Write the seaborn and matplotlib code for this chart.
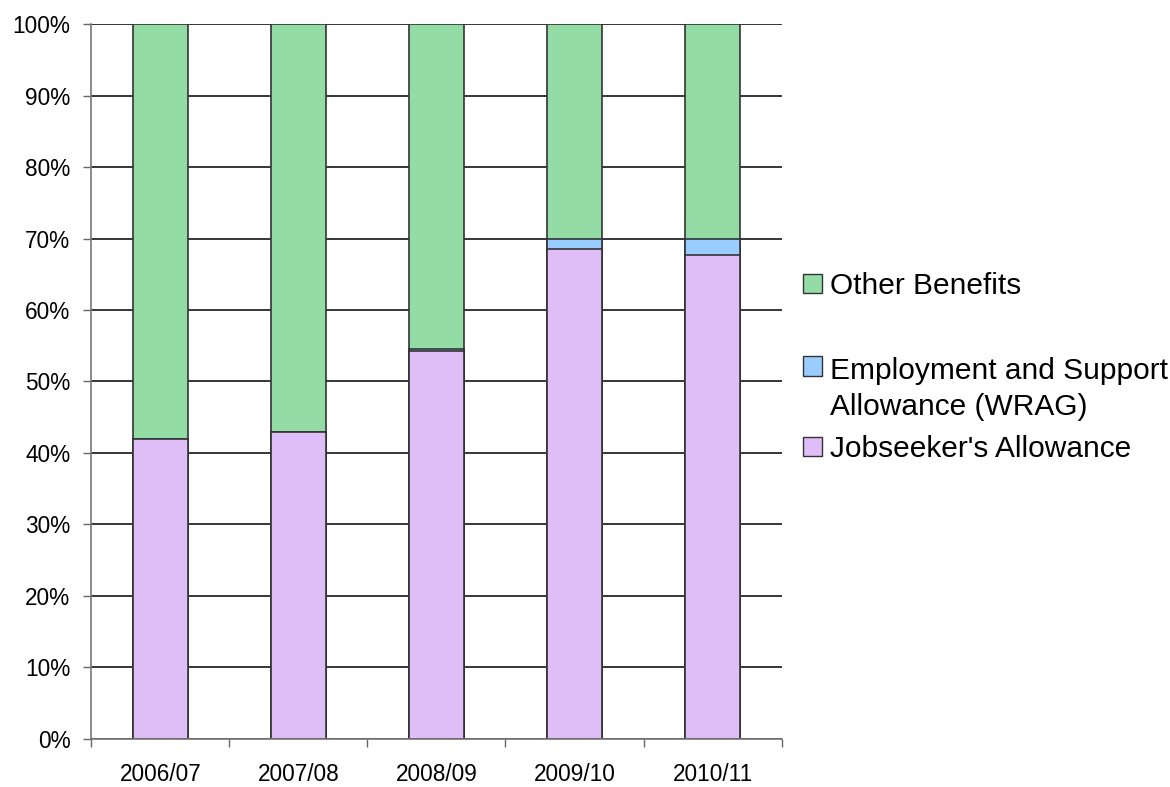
import matplotlib
matplotlib.use("Agg")
import matplotlib.pyplot as plt
import seaborn as sns
import pandas as pd
from matplotlib.patches import Patch, Rectangle
from matplotlib.legend_handler import HandlerPatch
from matplotlib.ticker import FuncFormatter, FixedLocator

years = ["2006/07", "2007/08", "2008/09", "2009/10", "2010/11"]
jsa = [42.0, 43.0, 54.2, 68.6, 67.7]
esa = [0.0, 0.0, 0.3, 1.3, 2.3]
other = [58.0, 57.0, 45.5, 30.1, 30.0]

df = pd.DataFrame({"year": years, "jsa": jsa, "esa": esa, "other": other})
df["jsa_esa"] = df["jsa"] + df["esa"]
df["total"] = df["jsa_esa"] + df["other"]

c_other = "#93dca6"
c_esa = "#99ccff"
c_jsa = "#dfbdf7"
edge = "#333333"

sns.set_style("white")
plt.rcParams["font.family"] = ["Liberation Sans", "DejaVu Sans"]
plt.rcParams["text.color"] = "black"

fig, ax = plt.subplots(figsize=(11.7, 7.87), dpi=100)
fig.subplots_adjust(left=0.078, right=0.668, bottom=0.061, top=0.9695)

ax.set_axisbelow(True)
ax.yaxis.grid(True, color="black", linewidth=1.1)

# stacked bars by overlaying cumulative totals
sns.barplot(data=df, x="year", y="total", color=c_other, width=0.4,
            edgecolor=edge, linewidth=1.2, saturation=1, ax=ax)
sns.barplot(data=df, x="year", y="jsa_esa", color=c_esa, width=0.4,
            edgecolor=edge, linewidth=1.2, saturation=1, ax=ax)
sns.barplot(data=df, x="year", y="jsa", color=c_jsa, width=0.4,
            edgecolor=edge, linewidth=1.2, saturation=1, ax=ax)

ax.set_xlim(-0.5, len(years) - 0.5)
ax.set_ylim(0, 100)
ax.set_yticks(range(0, 101, 10))
ax.yaxis.set_major_formatter(FuncFormatter(lambda v, p: f"{int(v)}%"))
ax.set_xlabel("")
ax.set_ylabel("")

# ticks between categories on x
ax.xaxis.set_minor_locator(FixedLocator([i - 0.5 for i in range(len(years) + 1)]))
ax.tick_params(axis="x", which="major", length=0, pad=17, labelsize=16.3, labelcolor="black")
ax.tick_params(axis="x", which="minor", length=6, width=1, color="#666666", direction="out", bottom=True)
ax.tick_params(axis="y", length=6, width=1, color="#666666", direction="out", left=True,
               labelsize=16.3, pad=9, labelcolor="black")

for s in ["top", "right"]:
    ax.spines[s].set_visible(False)
for s in ["left", "bottom"]:
    ax.spines[s].set_color("#777777")
    ax.spines[s].set_linewidth(1.2)


def shifted_patch(legend, orig_handle, xdescent, ydescent, width, height, fontsize):
    # put the swatch beside the first line of a two-line label
    return Rectangle((-xdescent, -ydescent + 17), width, height)


leg_kw = dict(frameon=False, fontsize=21.5, handlelength=0.64, handleheight=0.64,
              handletextpad=0.27, borderpad=0, borderaxespad=0)
entries = [
    (Patch(facecolor=c_other, edgecolor=edge), "Other Benefits", 1 - 286 / 787, None),
    (Patch(facecolor=c_esa, edgecolor=edge), "Employment and Support\nAllowance (WRAG)", 1 - 389 / 787,
     HandlerPatch(patch_func=shifted_patch)),
    (Patch(facecolor=c_jsa, edgecolor=edge), "Jobseeker's Allowance", 1 - 449 / 787, None),
]
for h, lab, y, handler in entries:
    kw = dict(leg_kw)
    if handler is not None:
        kw["handler_map"] = {h: handler}
    leg = fig.legend(handles=[h], labels=[lab], loc="center left",
                     bbox_to_anchor=(0.686, y), **kw)
    for t in leg.get_texts():
        t.set_linespacing(1.4)

plt.savefig("out.png", dpi=100)
